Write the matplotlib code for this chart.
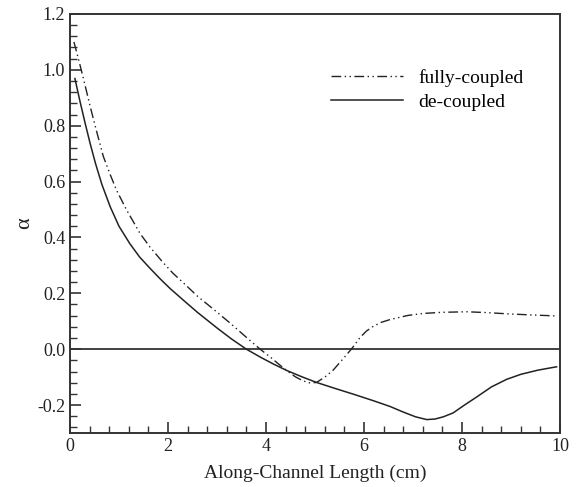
import matplotlib
matplotlib.use("Agg")
from matplotlib import pyplot as plt
from matplotlib.ticker import MultipleLocator

# values
x_full = [0.08, 0.2, 0.3, 0.41, 0.55, 0.68, 0.82, 0.95, 1.15, 1.43, 1.63, 1.9,
          2.1, 2.31, 2.6, 2.99, 3.27, 3.55, 3.88, 4.1, 4.29, 4.45, 4.6, 4.75,
          4.9, 5.03, 5.2, 5.37, 5.58, 5.75, 5.92, 6.05, 6.19, 6.35, 6.53, 6.9,
          7.21, 7.6, 8.1, 8.5, 8.98, 9.5, 9.93]
y_full = [1.10, 1.02, 0.95, 0.87, 0.775, 0.69, 0.625, 0.569, 0.50, 0.414, 0.366, 0.31,
          0.272, 0.238, 0.19, 0.134, 0.093, 0.05, 0.0, -0.03, -0.058, -0.08, -0.099, -0.113,
          -0.121, -0.119, -0.1, -0.075, -0.033, 0.002, 0.042, 0.065, 0.082, 0.096, 0.106, 0.121,
          0.128, 0.132, 0.134, 0.131, 0.126, 0.122, 0.119]

x_dec = [0.1, 0.2, 0.31, 0.41, 0.52, 0.65, 0.82, 1.0, 1.22, 1.42, 1.63, 1.85,
         2.05, 2.31, 2.6, 3.0, 3.3, 3.6, 3.9, 4.15, 4.42, 4.72, 5.03, 5.4,
         5.8, 6.2, 6.53, 6.8, 7.05, 7.28, 7.45, 7.62, 7.82, 8.05, 8.3, 8.6,
         8.91, 9.2, 9.55, 9.93]
y_dec = [0.969, 0.89, 0.808, 0.737, 0.665, 0.59, 0.51, 0.44, 0.378, 0.33, 0.29, 0.25,
         0.216, 0.176, 0.132, 0.076, 0.036, 0.0, -0.03, -0.053, -0.076, -0.098, -0.119, -0.14,
         -0.162, -0.185, -0.205, -0.225, -0.242, -0.252, -0.25, -0.242, -0.228, -0.2, -0.171, -0.135,
         -0.108, -0.09, -0.075, -0.063]

series_labels = ["fully-coupled", "de-coupled"]
x_ticks = [0, 2, 4, 6, 8, 10]
y_ticks = [-0.2, 0.0, 0.2, 0.4, 0.6, 0.8, 1.0, 1.2]

plt.rcParams['font.family'] = ['Liberation Serif', 'DejaVu Serif']
plt.rcParams['axes.unicode_minus'] = False

fig = plt.figure(figsize=(5.81, 4.87), dpi=100)
ax = fig.add_axes([0.1205, 0.1109, 0.8434, 0.8604])

ax.axhline(0.0, color='#333333', linewidth=1.3, zorder=1)
ax.plot(x_full, y_full, color='#222222', linewidth=1.0,
        linestyle=(0, (7, 2.5, 1, 2.5, 1, 2.5)), label=series_labels[0])
ax.plot(x_dec, y_dec, color='#222222', linewidth=1.1, label=series_labels[1])

ax.set_xlim(0, 10)
ax.set_ylim(-0.3, 1.2)
ax.set_xticks(x_ticks)
ax.set_yticks(y_ticks)
ax.set_yticklabels(["%.1f" % v for v in y_ticks])
ax.xaxis.set_minor_locator(MultipleLocator(0.4))
ax.yaxis.set_minor_locator(MultipleLocator(0.04))
ax.tick_params(which='major', direction='in', length=8, width=1.2,
               labelsize=13, colors='#333333', labelcolor='#222222')
ax.tick_params(which='minor', direction='in', length=5, width=1.0, colors='#333333')
ax.tick_params(top=False, right=False, which='both')
for s in ax.spines.values():
    s.set_linewidth(1.4)
    s.set_color('#333333')

ax.set_xlabel("Along-Channel Length (cm)", fontsize=14, color='#222222', labelpad=7)
ax.set_ylabel("α", fontsize=16, color='#222222', labelpad=2)

ax.legend(loc='upper left', bbox_to_anchor=(0.497, 0.91), frameon=False,
          fontsize=14, handlelength=3.7, handletextpad=0.8, labelspacing=0.3)

fig.savefig("out.png", dpi=100)
